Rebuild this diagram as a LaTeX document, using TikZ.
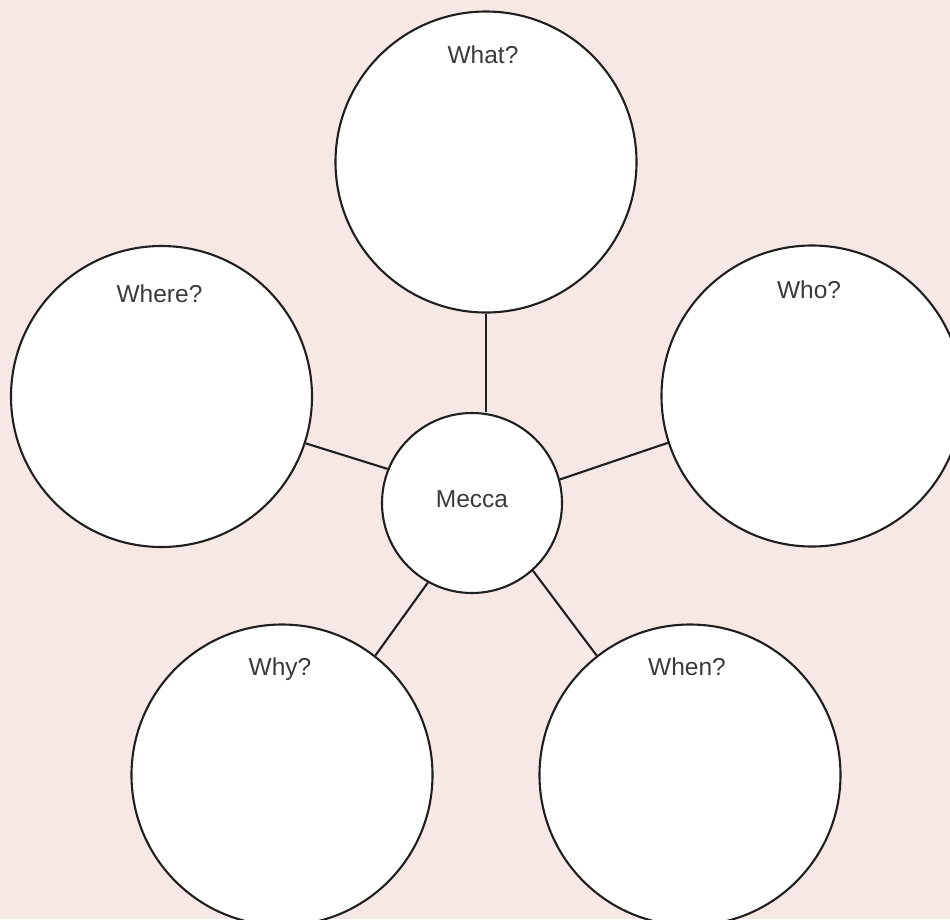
\documentclass[tikz,border=0pt]{standalone}
\usepackage{fontspec}
\setmainfont{Liberation Sans}
\begin{document}
\begin{tikzpicture}[x=1pt,y=-1pt,
  bubble/.style={circle,draw=black!88,line width=2.1pt,fill=white,inner sep=0pt,minimum size=301pt},
  hub/.style={circle,draw=black!88,line width=2.1pt,fill=white,inner sep=0pt,minimum size=180pt,
     font=\fontsize{24.5}{28}\selectfont,text=txt,text depth=8pt},
  qtext/.style={anchor=base,inner sep=0pt,font=\fontsize{24.5}{28}\selectfont,text=txt},
  link/.style={draw=black!88,line width=2.1pt}]
\definecolor{bgpink}{HTML}{F6E8E5}
\definecolor{txt}{HTML}{3A3A3A}
\fill[bgpink] (0,0) rectangle (950,919);
\useasboundingbox (0,0) rectangle (950,919);
\clip (0,0) rectangle (950,919);
\node[bubble] (what)  at (486,162) {};
\node[bubble] (where) at (161.5,396.5) {};
\node[bubble] (who)   at (812,396) {};
\node[bubble] (why)   at (282,775) {};
\node[bubble] (when)  at (690,775) {};
\node[hub] (mecca) at (472,503) {Mecca};
\node[qtext] (twhat)  at ([xshift=-3pt,yshift=-53pt]what.north)  {What?};
\node[qtext] (twhere) at ([xshift=-2pt,yshift=-58pt]where.north) {Where?};
\node[qtext] (twho)   at ([xshift=-3pt,yshift=-54pt]who.north)   {Who?};
\node[qtext] (twhy)   at ([xshift=-2pt,yshift=-52pt]why.north)   {Why?};
\node[qtext] (twhen)  at ([xshift=-3pt,yshift=-52pt]when.north)  {When?};
\draw[link] (what.south) -- (what.south |- mecca.north);
\draw[link] (where.-18.1) -- (mecca.158.8);
\draw[link] (who.198.4) -- (mecca.15.6);
\draw[link] (why.52.2) -- (mecca.241.5);
\draw[link] (when.128.1) -- (mecca.-48.5);
\end{tikzpicture}
\end{document}
